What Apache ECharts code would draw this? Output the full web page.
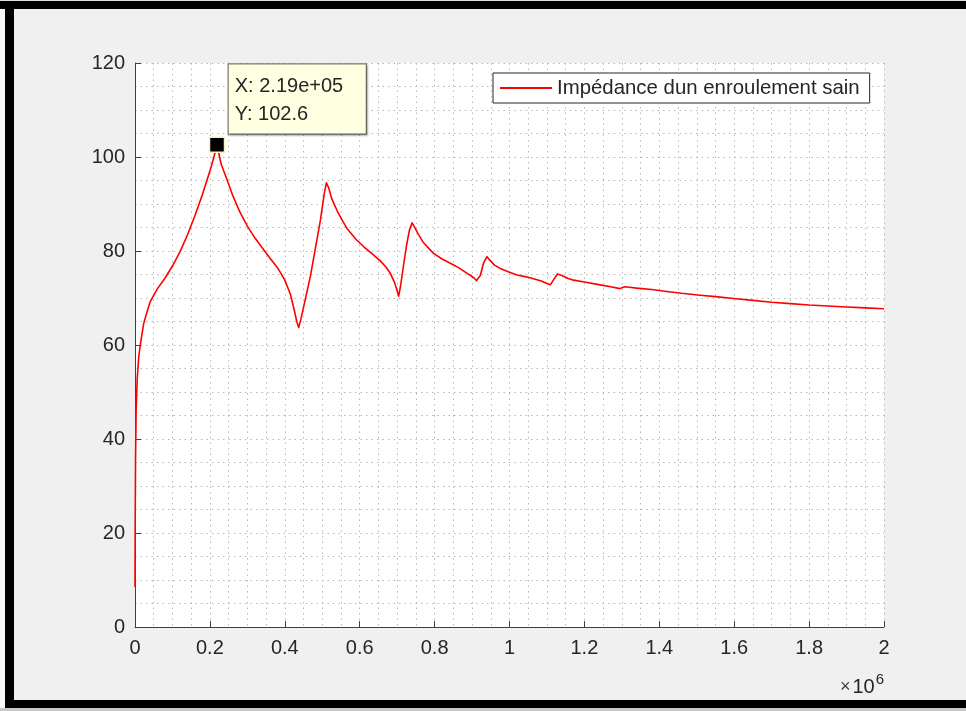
<!DOCTYPE html>
<html>
<head>
<meta charset="utf-8">
<title>Impédance</title>
<script src="https://cdn.jsdelivr.net/npm/echarts@6/dist/echarts.min.js"></script>
<style>
  html, body { margin: 0; padding: 0; background: #f0f0f0; }
  #chart { width: 966px; height: 711px; }
</style>
</head>
<body>
<div id="chart"></div>
<script>
// Frequency (Hz) and impedance magnitude of a healthy winding
const freq = [
  0, 500, 1500, 3000, 6000, 10000, 15000, 23000, 30000, 41000,
  60000, 80000, 100000, 120000, 140000, 160000, 180000, 200000, 210000, 219000,
  230000, 246000, 260000, 280000, 300000, 320000, 344000, 360000, 380000, 390000,
  400000, 415000, 425000, 432000, 437000, 443000, 455000, 468000, 480000, 495000,
  505000, 511000, 517000, 525000, 540000, 555000, 566000, 590000, 611000, 635000,
  655000, 670000, 682000, 692000, 699000, 704000, 709000, 718000, 726000, 733000,
  740000, 745000, 755000, 770000, 797000, 820000, 842000, 865000, 886000, 905000,
  912000, 917000, 922000, 931000, 940000, 948000, 960000, 975000, 1000000, 1020000,
  1045000, 1064000, 1085000, 1100000, 1109000, 1118000, 1128000, 1140000, 1155000, 1171000,
  1200000, 1242000, 1270000, 1295000, 1303000, 1309000, 1320000, 1340000, 1380000, 1420000,
  1460000, 1509000, 1550000, 1598000, 1650000, 1700000, 1750000, 1800000, 1850000, 1900000,
  1950000, 2000000
];
const impedance = [
  8.5, 22, 36, 46, 53, 57.5, 60.5, 64.5, 66.5, 69.3,
  72, 74.2, 76.8, 79.8, 83.4, 87.5, 92, 97, 99.8, 102.6,
  98.5, 95.1, 92, 88.3, 85.3, 82.8, 80.2, 78.5, 76.5, 75.2,
  73.8, 70.8, 67.5, 65, 63.7, 65.5, 69.8, 74.5, 79.8, 86.5,
  92, 94.5, 93.5, 91.2, 88.5, 86.3, 84.8, 82.5, 80.9, 79.3,
  77.9, 76.6, 75.2, 73.5, 71.8, 70.4, 72.5, 77.5, 81.6, 84.5,
  86, 85.3, 83.8, 81.8, 79.5, 78.3, 77.4, 76.4, 75.3, 74.3,
  73.7, 73.3, 74.8, 77.5, 78.8, 78, 77, 76.3, 75.5, 74.9,
  74.5, 74.1, 73.6, 73.1, 72.8, 73.9, 75.1, 74.8, 74.2, 73.8,
  73.4, 72.8, 72.4, 72.0, 72.3, 72.4, 72.3, 72.1, 71.8, 71.4,
  71.0, 70.6, 70.3, 69.9, 69.5, 69.1, 68.8, 68.5, 68.3, 68.1,
  67.9, 67.7
];
const seriesName = 'Impédance dun enroulement sain';

// Data cursor position
const tipX = 219000;
const tipY = 102.6;

// Axis settings
const xMax = 2000000;
const xStep = 200000;
const yMax = 120;
const yStep = 20;

const FONT = '"Liberation Sans", Arial, Helvetica, sans-serif';
const TEXT = '#262626';

function expLabel(v) {
  // exponent written with two digits: 2.19e+05
  const s = v.toExponential(2);
  const m = s.match(/^(.*)e([+-])(\d+)$/);
  return m[1] + 'e' + m[2] + (m[3].length < 2 ? '0' + m[3] : m[3]);
}

const lineData = freq.map((f, i) => [f, impedance[i]]);

const chart = echarts.init(document.getElementById('chart'), null, { renderer: 'canvas' });

const dotted = { color: '#b8b8b8', width: 1, type: [1.5, 4] };

chart.setOption({
  backgroundColor: '#f0f0f0',
  animation: false,
  textStyle: { fontFamily: FONT },
  grid: {
    left: 135, right: 82, top: 63, bottom: 84,
    show: true, backgroundColor: '#ffffff', borderWidth: 0
  },
  legend: {
    data: [seriesName],
    left: 493, top: 73,
    icon: 'rect',
    itemWidth: 52, itemHeight: 2,
    itemGap: 5,
    padding: [4, 10, 4, 7],
    backgroundColor: '#ffffff',
    borderColor: '#262626', borderWidth: 1,
    borderRadius: 0,
    textStyle: { fontSize: 20.4, color: TEXT, fontFamily: FONT, lineHeight: 22 }
  },
  xAxis: {
    type: 'value',
    min: 0, max: xMax, interval: xStep,
    axisLine: { show: true, onZero: false, lineStyle: { color: '#404040', width: 1 } },
    axisTick: { show: true, inside: true, length: 6, lineStyle: { color: '#404040' } },
    minorTick: { show: false, splitNumber: 4 },
    axisLabel: {
      color: TEXT, fontSize: 20, fontFamily: FONT, margin: 11,
      formatter: v => String(parseFloat((v / 1e6).toFixed(1)))
    },
    splitLine: { show: true, lineStyle: dotted },
    minorSplitLine: { show: true, lineStyle: dotted }
  },
  yAxis: {
    type: 'value',
    min: 0, max: yMax, interval: yStep,
    axisLine: { show: true, onZero: false, lineStyle: { color: '#404040', width: 1 } },
    axisTick: { show: true, inside: true, length: 6, lineStyle: { color: '#404040' } },
    minorTick: { show: false, splitNumber: 4 },
    axisLabel: { color: TEXT, fontSize: 20, fontFamily: FONT, margin: 10 },
    splitLine: { show: true, lineStyle: dotted },
    minorSplitLine: { show: true, lineStyle: dotted }
  },
  series: [
    {
      name: seriesName,
      type: 'line',
      data: lineData,
      showSymbol: false,
      smooth: false,
      z: 3,
      lineStyle: { color: '#ff0000', width: 1.6, join: 'round' },
      itemStyle: { color: '#ff0000' }
    },
    {
      name: 'datatip',
      type: 'scatter',
      data: [[tipX, tipY]],
      symbol: 'rect',
      symbolSize: 15,
      z: 5,
      itemStyle: { color: '#000000', opacity: 1, borderColor: '#f5f0c8', borderWidth: 1.5 },
      label: {
        show: true,
        position: [20, -72],
        align: 'left',
        verticalAlign: 'top',
        formatter: p => 'X: ' + expLabel(p.value[0]) + '\nY: ' + p.value[1].toFixed(1),
        fontSize: 20,
        fontFamily: FONT,
        color: TEXT,
        lineHeight: 28,
        width: 123,
        padding: [8, 8, 5, 6],
        backgroundColor: '#ffffe1',
        borderColor: '#7a7a70',
        borderWidth: 1.2,
        shadowColor: 'rgba(0,0,0,0.25)',
        shadowBlur: 2,
        shadowOffsetX: 1,
        shadowOffsetY: 1
      },
      emphasis: { disabled: true }
    }
  ],
  graphic: [
    // exponent note under the x axis
    {
      type: 'text',
      right: 82,
      top: 672,
      style: {
        text: '{x|×}{b|10}{s|6}',
        rich: {
          x: { fontSize: 18, fontFamily: FONT, fill: '#404040', padding: [8, 2, 0, 0] },
          b: { fontSize: 20, fontFamily: FONT, fill: TEXT, padding: [8, 0, 0, 0] },
          s: { fontSize: 15, fontFamily: FONT, fill: TEXT, padding: [0, 0, 8, 1] }
        }
      },
      z: 10
    },
    // window frame
    { type: 'rect', shape: { x: 0, y: 0, width: 5, height: 711 }, style: { fill: '#f8f8f8' }, z: 20 },
    { type: 'rect', shape: { x: 0, y: 0, width: 966, height: 1 }, style: { fill: '#dcdcdc' }, z: 20 },
    { type: 'rect', shape: { x: 0, y: 1, width: 966, height: 8 }, style: { fill: '#000000' }, z: 21 },
    { type: 'rect', shape: { x: 5, y: 1, width: 9, height: 707 }, style: { fill: '#000000' }, z: 21 },
    { type: 'rect', shape: { x: 5, y: 700, width: 961, height: 8 }, style: { fill: '#000000' }, z: 21 },
    { type: 'rect', shape: { x: 0, y: 708, width: 966, height: 3 }, style: { fill: '#c8c8c8' }, z: 20 }
  ]
});
</script>
</body>
</html>
